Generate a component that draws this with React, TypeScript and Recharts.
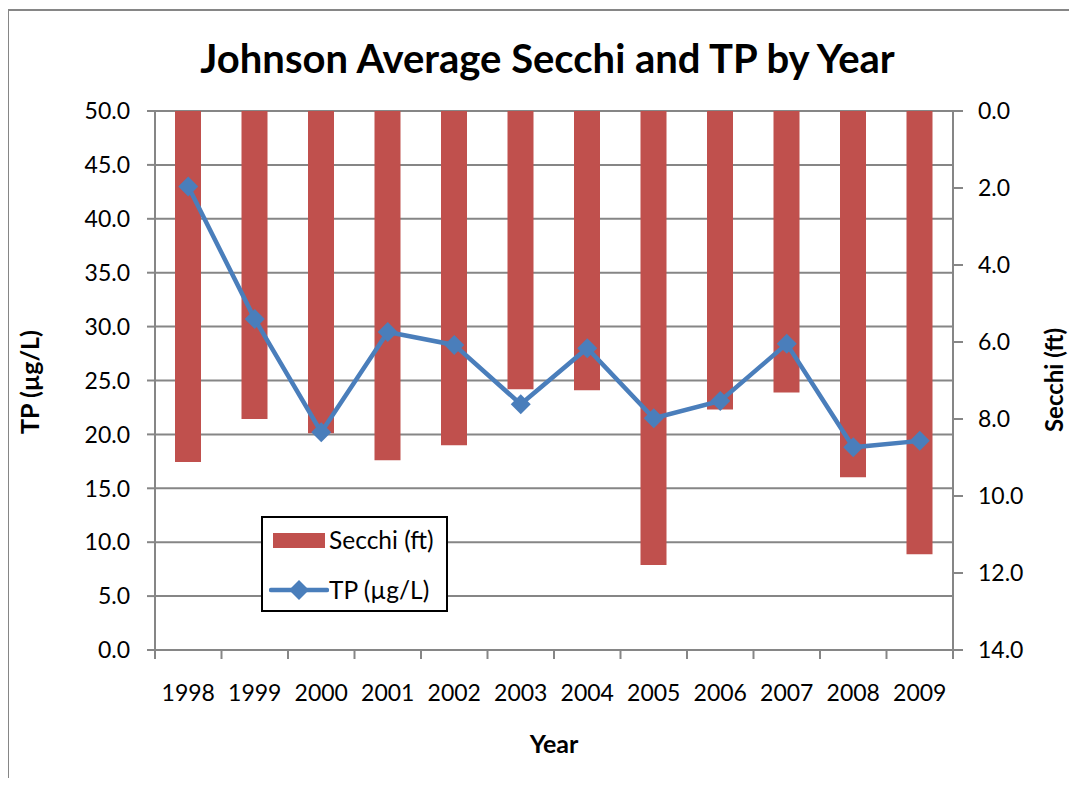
import React from 'react';
import { ComposedChart, Bar, Line, XAxis, YAxis, CartesianGrid, Label } from 'recharts';

const years = ['1998', '1999', '2000', '2001', '2002', '2003', '2004', '2005', '2006', '2007', '2008', '2009'];
const tpValues = [43.0, 30.7, 20.2, 29.5, 28.3, 22.8, 28.0, 21.5, 23.1, 28.4, 18.8, 19.4];
const secchiValues = [9.12, 8.0, 8.37, 9.07, 8.68, 7.23, 7.25, 11.79, 7.75, 7.31, 9.51, 11.51];
const tpTicks = [0, 5, 10, 15, 20, 25, 30, 35, 40, 45, 50];
const secchiTicks = [0, 2, 4, 6, 8, 10, 12, 14];

const data = years.map((year, i) => ({ year, tp: tpValues[i], secchi: secchiValues[i] }));

const FONT = 'Lato, "Open Sans", sans-serif';
const W = 1061;
const H = 770;
const PLOT_L = 147;
const PLOT_R = 945;
const PLOT_T = 103;
const PLOT_B = 642;
const BAND = (PLOT_R - PLOT_L) / years.length;
const GRAY = '#868686';
const RED = '#C0504D';
const BLUE = '#4A7EBB';

const XTick = (props: any) => {
  const { x, index, payload } = props;
  return (
    <g>
      <line x1={x - BAND / 2} x2={x - BAND / 2} y1={PLOT_B} y2={PLOT_B + 9} stroke={GRAY} strokeWidth={2} />
      {index === years.length - 1 && (
        <line x1={x + BAND / 2} x2={x + BAND / 2} y1={PLOT_B} y2={PLOT_B + 9} stroke={GRAY} strokeWidth={2} />
      )}
      <text x={x} y={PLOT_B + 51} textAnchor="middle" fontSize={23} fontFamily={FONT} fill="#000">
        {payload.value}
      </text>
    </g>
  );
};

const LeftTick = (props: any) => {
  const { y, payload } = props;
  return (
    <text x={PLOT_L - 25} y={y} dy="0.36em" textAnchor="end" fontSize={23} fontFamily={FONT} fill="#000">
      {Number(payload.value).toFixed(1)}
    </text>
  );
};

const RightTick = (props: any) => {
  const { y, payload } = props;
  return (
    <text x={PLOT_R + 25} y={y} dy="0.36em" textAnchor="start" fontSize={23} fontFamily={FONT} fill="#000">
      {Number(payload.value).toFixed(1)}
    </text>
  );
};

const Diamond = (props: any) => {
  const { cx, cy } = props;
  if (cx == null || cy == null) return null;
  const r = 10;
  return <path d={`M${cx},${cy - r} L${cx + r},${cy} L${cx},${cy + r} L${cx - r},${cy} Z`} fill={BLUE} />;
};

const Legend = () => (
  <div
    style={{
      position: 'absolute',
      left: 253,
      top: 508,
      width: 187,
      height: 96,
      boxSizing: 'border-box',
      border: '2px solid #000',
      background: '#fff',
      fontFamily: FONT,
      fontSize: 24.5,
      color: '#000',
    }}
  >
    <div style={{ position: 'absolute', left: 10, top: 15, width: 52, height: 15, background: RED }} />
    <div style={{ position: 'absolute', left: 66, top: 7, lineHeight: '30px', whiteSpace: 'nowrap' }}>Secchi (ft)</div>
    <svg style={{ position: 'absolute', left: 6, top: 60 }} width={60} height={24}>
      <line x1={2} x2={58} y1={12} y2={12} stroke={BLUE} strokeWidth={4.5} strokeLinecap="round" />
      <path d="M30,2 L40,12 L30,22 L20,12 Z" fill={BLUE} />
    </svg>
    <div style={{ position: 'absolute', left: 66, top: 57, lineHeight: '30px', whiteSpace: 'nowrap' }}>TP (µg/L)</div>
  </div>
);

const AXIS_TITLE = 25;

export default function App() {
  return (
    <div style={{ position: 'relative', width: W, height: H }}>
      <div
        style={{
          position: 'absolute',
          left: -1,
          top: 1,
          width: W + 9,
          height: H - 1,
          boxSizing: 'border-box',
          borderLeft: `2px solid ${GRAY}`,
          borderTop: `2px solid ${GRAY}`,
        }}
      />
      <div
        style={{
          position: 'absolute',
          left: 5,
          top: 26,
          width: 1069,
          textAlign: 'center',
          fontFamily: FONT,
          fontWeight: 700,
          fontSize: 40,
          lineHeight: '48px',
          color: '#000',
        }}
      >
        Johnson Average Secchi and TP by Year
      </div>
      <div style={{ position: 'absolute', left: 0, top: 0 }}>
        <ComposedChart
          width={W}
          height={H}
          data={data}
          margin={{ top: PLOT_T, right: 0, bottom: 0, left: 0 }}
          barSize={26}
          style={{ overflow: 'visible' }}
        >
          <CartesianGrid yAxisId="left" vertical={false} stroke={GRAY} strokeWidth={2} />
          <XAxis
            dataKey="year"
            height={H - PLOT_B}
            tickLine={false}
            axisLine={{ stroke: GRAY, strokeWidth: 2 }}
            tick={<XTick />}
            interval={0}
          >
            <Label
              content={() => (
                <text x={546} y={745} textAnchor="middle" fontSize={AXIS_TITLE} fontWeight={700} fontFamily={FONT} fill="#000">
                  Year
                </text>
              )}
            />
          </XAxis>
          <YAxis
            yAxisId="left"
            orientation="left"
            width={PLOT_L}
            domain={[0, 50]}
            ticks={tpTicks}
            interval={0}
            tickSize={8}
            tickLine={{ stroke: GRAY, strokeWidth: 2 }}
            axisLine={{ stroke: GRAY, strokeWidth: 2 }}
            tick={<LeftTick />}
          >
            <Label
              content={() => (
                <text
                  x={22}
                  y={374}
                  transform="rotate(-90 22 374)"
                  textAnchor="middle"
                  dy="0.36em"
                  fontSize={AXIS_TITLE}
                  fontWeight={700}
                  fontFamily={FONT}
                  fill="#000"
                >
                  TP (µg/L)
                </text>
              )}
            />
          </YAxis>
          <YAxis
            yAxisId="right"
            orientation="right"
            width={W - PLOT_R}
            domain={[0, 14]}
            reversed
            ticks={secchiTicks}
            interval={0}
            tickSize={10}
            tickLine={{ stroke: GRAY, strokeWidth: 2 }}
            axisLine={{ stroke: GRAY, strokeWidth: 2 }}
            tick={<RightTick />}
          >
            <Label
              content={() => (
                <text
                  x={1046}
                  y={372}
                  transform="rotate(-90 1046 372)"
                  textAnchor="middle"
                  dy="0.36em"
                  fontSize={24}
                  fontWeight={700}
                  fontFamily={FONT}
                  fill="#000"
                >
                  Secchi (ft)
                </text>
              )}
            />
          </YAxis>
          <Bar yAxisId="right" dataKey="secchi" fill={RED} isAnimationActive={false} />
          <Line
            yAxisId="left"
            dataKey="tp"
            stroke={BLUE}
            strokeWidth={4.5}
            dot={<Diamond />}
            activeDot={false}
            isAnimationActive={false}
          />
        </ComposedChart>
      </div>
      <Legend />
    </div>
  );
}
